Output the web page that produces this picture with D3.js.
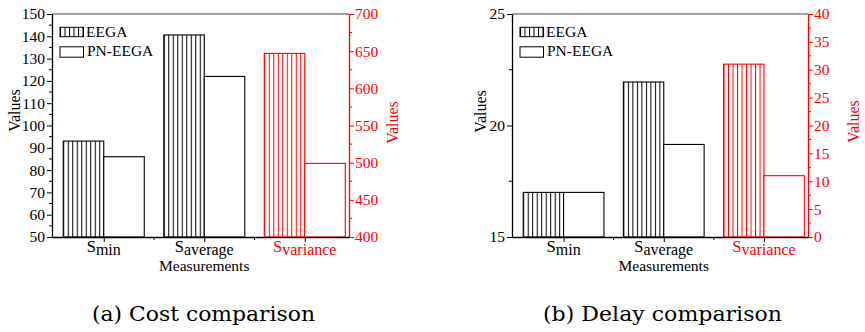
<!DOCTYPE html>
<html><head><meta charset="utf-8">
<script src="https://cdn.jsdelivr.net/npm/d3@7"></script>
<style>
body{margin:0;background:#fff;}
svg{display:block;}
</style></head>
<body>
<svg id="chart" width="865" height="332"></svg>
<script>
// ---------- data ----------
const categories = ["min", "average", "variance"];
const seriesNames = ["EEGA", "PN-EEGA"];
// cost comparison (third category uses right axis)
const costEEGA = [93, 140.6, 647];
const costPN = [86, 122, 499];
const costLeftTicks = [50, 60, 70, 80, 90, 100, 110, 120, 130, 140, 150];
const costRightTicks = [400, 450, 500, 550, 600, 650, 700];
// delay comparison
const delayEEGA = [17, 21.95, 31];
const delayPN = [17, 19.15, 11];
const delayLeftTicks = [15, 20, 25];
const delayRightTicks = [0, 5, 10, 15, 20, 25, 30, 35, 40];
const xTitle = "Measurements";
const yTitle = "Values";
const captions = ["(a) Cost comparison", "(b) Delay comparison"];

const svg = d3.select("#chart");
const RED = "#ff0000";
const FONT = "Liberation Serif";
let patId = 0;

function hatch(x, y, color) {
  const id = "h" + (patId++);
  const p = svg.append("defs").append("pattern")
    .attr("id", id).attr("patternUnits", "userSpaceOnUse")
    .attr("x", x).attr("y", y).attr("width", 4.5).attr("height", 10);
  p.append("rect").attr("width", 4.5).attr("height", 10).attr("fill", "#fff");
  p.append("line").attr("x1", 0.5).attr("x2", 0.5).attr("y1", 0).attr("y2", 10)
    .attr("stroke", color).attr("stroke-width", 1);
  return "url(#" + id + ")";
}

function panel(cfg) {
  const g = svg.append("g").attr("font-family", FONT);
  const x = d3.scaleLinear().domain([-0.515, 2.44]).range([cfg.left, cfg.right]);
  const yL = d3.scaleLinear().domain(cfg.leftDomain).range([237, 14]);
  const yR = d3.scaleLinear().domain(cfg.rightDomain).range([237, 14]);
  const bw = x(0.403) - x(0);

  // bars
  categories.forEach((c, i) => {
    const y = i === 2 ? yR : yL;
    const col = i === 2 ? RED : "#000";
    const xe = x(i) - bw;
    g.append("rect").attr("x", xe).attr("y", y(cfg.eega[i]))
      .attr("width", bw).attr("height", y.range()[0] - y(cfg.eega[i]))
      .attr("fill", hatch(xe, 0, col)).attr("stroke", col).attr("stroke-width", 1.1);
    g.append("rect").attr("x", x(i)).attr("y", y(cfg.pn[i]))
      .attr("width", bw).attr("height", y.range()[0] - y(cfg.pn[i]))
      .attr("fill", "#fff").attr("stroke", col).attr("stroke-width", 1.1);
  });

  // top border
  g.append("line").attr("x1", cfg.left).attr("x2", cfg.right).attr("y1", 14).attr("y2", 14)
    .attr("stroke", "#444").attr("stroke-width", 1.2);

  // left axis
  const la = g.append("g").attr("transform", `translate(${cfg.left},0)`)
    .call(d3.axisLeft(yL).tickValues(cfg.leftTicks).tickSize(5).tickPadding(2).tickSizeOuter(0));
  la.attr("font-family", FONT);
  la.selectAll(".tick text").attr("font-size", 15.5).attr("fill", "#000");
  la.select(".domain").attr("stroke-width", 1.3);
  const lMinor = [];
  for (let i = 0; i < cfg.leftTicks.length - 1; i++) lMinor.push((cfg.leftTicks[i] + cfg.leftTicks[i + 1]) / 2);
  g.selectAll(null).data(lMinor).enter().append("line")
    .attr("x1", cfg.left - 3).attr("x2", cfg.left).attr("y1", d => yL(d)).attr("y2", d => yL(d))
    .attr("stroke", "#000");

  // right axis
  const ra = g.append("g").attr("transform", `translate(${cfg.right},0)`)
    .call(d3.axisRight(yR).tickValues(cfg.rightTicks).tickSize(5).tickPadding(1).tickSizeOuter(0));
  ra.attr("font-family", FONT);
  ra.selectAll(".tick line").attr("stroke", RED);
  ra.select(".domain").attr("stroke", RED).attr("stroke-width", 1.3);
  ra.selectAll(".tick text").attr("font-size", 15.5).attr("fill", RED);
  const rMinor = [];
  for (let i = 0; i < cfg.rightTicks.length - 1; i++) rMinor.push((cfg.rightTicks[i] + cfg.rightTicks[i + 1]) / 2);
  g.selectAll(null).data(rMinor).enter().append("line")
    .attr("x1", cfg.right).attr("x2", cfg.right + 3).attr("y1", d => yR(d)).attr("y2", d => yR(d))
    .attr("stroke", RED);

  // bottom axis
  const ba = g.append("g").attr("transform", "translate(0,237)")
    .call(d3.axisBottom(x).tickValues([0, 1, 2]).tickSize(5).tickFormat("").tickSizeOuter(0));
  ba.select(".domain").attr("stroke-width", 1.3);
  g.selectAll(null).data([0.5, 1.5]).enter().append("line")
    .attr("x1", d => x(d)).attr("x2", d => x(d)).attr("y1", 237).attr("y2", 240)
    .attr("stroke", "#000");

  // category labels
  categories.forEach((c, i) => {
    const t = g.append("text").attr("x", x(i)).attr("y", 252).attr("text-anchor", "middle")
      .attr("font-size", 16.5).attr("fill", i === 2 ? RED : "#000");
    t.append("tspan").text("S");
    t.append("tspan").attr("dy", 3).attr("font-size", 16).text(c);
  });
  g.append("text").attr("x", x(1)).attr("y", 271).attr("text-anchor", "middle")
    .attr("font-size", 15.5).text(xTitle);

  // y titles
  g.append("text").attr("transform", `translate(${cfg.lTitleX},${cfg.lTitleY}) rotate(-90)`)
    .attr("text-anchor", "middle").attr("font-size", 16).text(yTitle);
  g.append("text").attr("transform", `translate(${cfg.rTitleX},${cfg.rTitleY}) rotate(-90)`)
    .attr("text-anchor", "middle").attr("font-size", 16).attr("fill", RED).text(yTitle);

  // legend
  const lx = cfg.left + 8;
  [[27.3, 36.7], [46.8, 57.2]].forEach((yy, k) => {
    g.append("rect").attr("x", lx).attr("y", yy[0]).attr("width", 23.5).attr("height", yy[1] - yy[0])
      .attr("fill", k === 0 ? hatch(lx, 0, "#000") : "#fff").attr("stroke", "#000").attr("stroke-width", 1);
    g.append("text").attr("x", lx + 26 + k).attr("y", k === 0 ? 36.5 : 55.5)
      .attr("font-size", 15.5).text(seriesNames[k]);
  });

  // caption
  g.append("text").attr("x", cfg.capX).attr("y", 321).attr("font-size", 20)
    .attr("font-family", "DejaVu Serif")
    .attr("textLength", cfg.capW).attr("lengthAdjust", "spacingAndGlyphs").text(cfg.caption);
}

panel({left: 52, right: 349, eega: costEEGA, pn: costPN,
  leftDomain: [50, 150], rightDomain: [400, 700],
  leftTicks: costLeftTicks, rightTicks: costRightTicks,
  lTitleX: 20, lTitleY: 110.5, rTitleX: 398, rTitleY: 122.5,
  caption: captions[0], capX: 92, capW: 223});
panel({left: 512, right: 808, eega: delayEEGA, pn: delayPN,
  leftDomain: [15, 25], rightDomain: [0, 40],
  leftTicks: delayLeftTicks, rightTicks: delayRightTicks,
  lTitleX: 486, lTitleY: 111.5, rTitleX: 859, rTitleY: 121.5,
  caption: captions[1], capX: 543, capW: 239});
</script>
</body></html>
